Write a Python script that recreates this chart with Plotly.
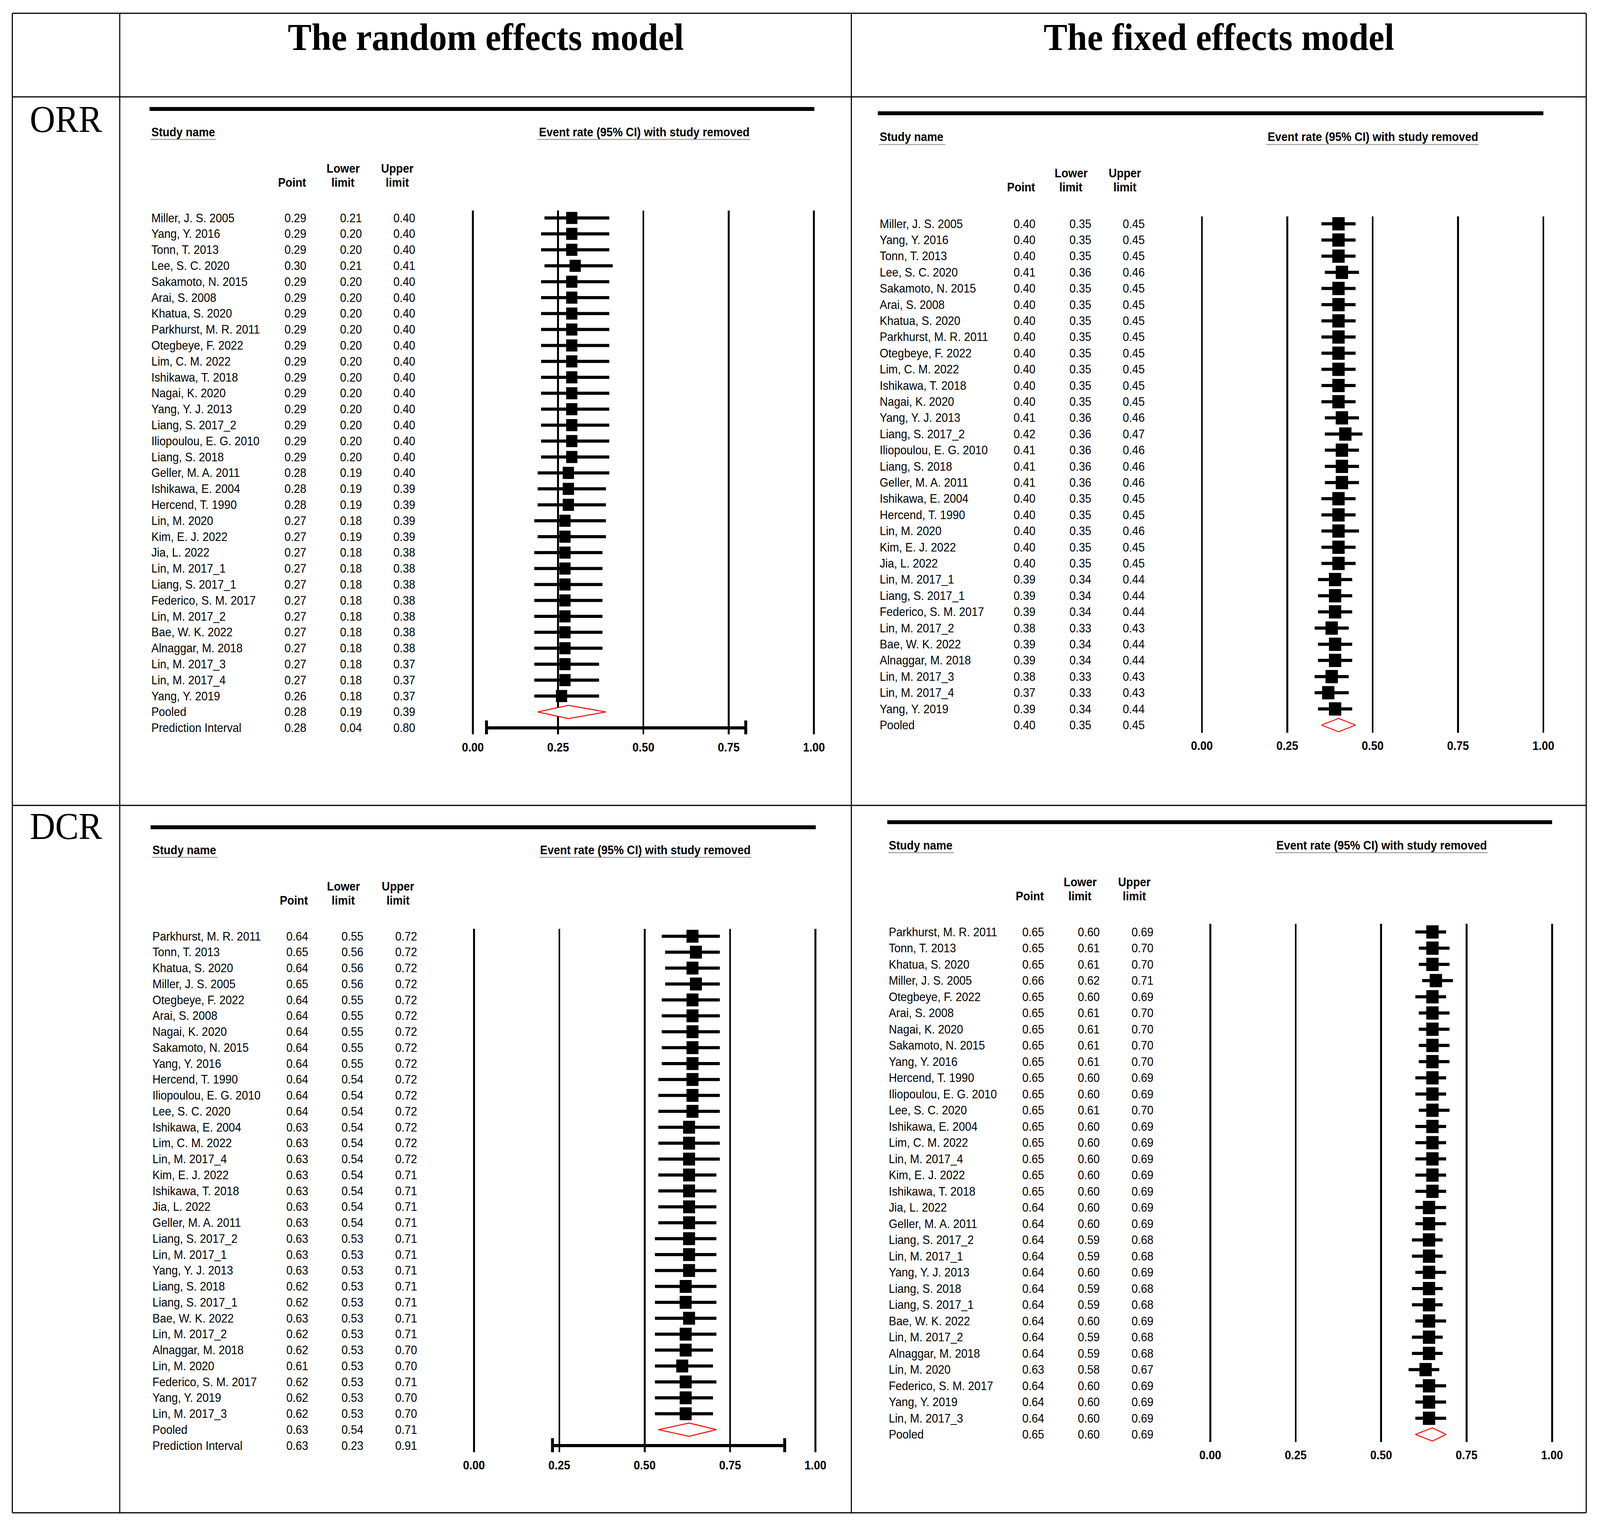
import plotly.graph_objects as go

W, H = 4409, 3912
SANS = "Liberation Sans, Arial, sans-serif"
SERIF = "Liberation Serif, Times New Roman, serif"

# ---------------- data ----------------
orr_studies = [
    "Miller, J. S. 2005", "Yang, Y. 2016", "Tonn, T. 2013", "Lee, S. C. 2020",
    "Sakamoto, N. 2015", "Arai, S. 2008", "Khatua, S. 2020", "Parkhurst, M. R. 2011",
    "Otegbeye, F. 2022", "Lim, C. M. 2022", "Ishikawa, T. 2018", "Nagai, K. 2020",
    "Yang, Y. J. 2013", "Liang, S. 2017_2", "Iliopoulou, E. G. 2010", "Liang, S. 2018",
    "Geller, M. A. 2011", "Ishikawa, E. 2004", "Hercend, T. 1990", "Lin, M. 2020",
    "Kim, E. J. 2022", "Jia, L. 2022", "Lin, M. 2017_1", "Liang, S. 2017_1",
    "Federico, S. M. 2017", "Lin, M. 2017_2", "Bae, W. K. 2022", "Alnaggar, M. 2018",
    "Lin, M. 2017_3", "Lin, M. 2017_4", "Yang, Y. 2019",
]

# ORR, random effects model
orr_re_point = [0.29, 0.29, 0.29, 0.30, 0.29, 0.29, 0.29, 0.29, 0.29, 0.29, 0.29, 0.29,
                0.29, 0.29, 0.29, 0.29, 0.28, 0.28, 0.28, 0.27, 0.27, 0.27, 0.27, 0.27,
                0.27, 0.27, 0.27, 0.27, 0.27, 0.27, 0.26]
orr_re_lower = [0.21, 0.20, 0.20, 0.21, 0.20, 0.20, 0.20, 0.20, 0.20, 0.20, 0.20, 0.20,
                0.20, 0.20, 0.20, 0.20, 0.19, 0.19, 0.19, 0.18, 0.19, 0.18, 0.18, 0.18,
                0.18, 0.18, 0.18, 0.18, 0.18, 0.18, 0.18]
orr_re_upper = [0.40, 0.40, 0.40, 0.41, 0.40, 0.40, 0.40, 0.40, 0.40, 0.40, 0.40, 0.40,
                0.40, 0.40, 0.40, 0.40, 0.40, 0.39, 0.39, 0.39, 0.39, 0.38, 0.38, 0.38,
                0.38, 0.38, 0.38, 0.38, 0.37, 0.37, 0.37]
orr_re_pooled = [0.28, 0.19, 0.39]
orr_re_pred = [0.28, 0.04, 0.80]

# ORR, fixed effects model
orr_fe_point = [0.40, 0.40, 0.40, 0.41, 0.40, 0.40, 0.40, 0.40, 0.40, 0.40, 0.40, 0.40,
                0.41, 0.42, 0.41, 0.41, 0.41, 0.40, 0.40, 0.40, 0.40, 0.40, 0.39, 0.39,
                0.39, 0.38, 0.39, 0.39, 0.38, 0.37, 0.39]
orr_fe_lower = [0.35, 0.35, 0.35, 0.36, 0.35, 0.35, 0.35, 0.35, 0.35, 0.35, 0.35, 0.35,
                0.36, 0.36, 0.36, 0.36, 0.36, 0.35, 0.35, 0.35, 0.35, 0.35, 0.34, 0.34,
                0.34, 0.33, 0.34, 0.34, 0.33, 0.33, 0.34]
orr_fe_upper = [0.45, 0.45, 0.45, 0.46, 0.45, 0.45, 0.45, 0.45, 0.45, 0.45, 0.45, 0.45,
                0.46, 0.47, 0.46, 0.46, 0.46, 0.45, 0.45, 0.46, 0.45, 0.45, 0.44, 0.44,
                0.44, 0.43, 0.44, 0.44, 0.43, 0.43, 0.44]
orr_fe_pooled = [0.40, 0.35, 0.45]

dcr_studies = [
    "Parkhurst, M. R. 2011", "Tonn, T. 2013", "Khatua, S. 2020", "Miller, J. S. 2005",
    "Otegbeye, F. 2022", "Arai, S. 2008", "Nagai, K. 2020", "Sakamoto, N. 2015",
    "Yang, Y. 2016", "Hercend, T. 1990", "Iliopoulou, E. G. 2010", "Lee, S. C. 2020",
    "Ishikawa, E. 2004", "Lim, C. M. 2022", "Lin, M. 2017_4", "Kim, E. J. 2022",
    "Ishikawa, T. 2018", "Jia, L. 2022", "Geller, M. A. 2011", "Liang, S. 2017_2",
    "Lin, M. 2017_1", "Yang, Y. J. 2013", "Liang, S. 2018", "Liang, S. 2017_1",
    "Bae, W. K. 2022", "Lin, M. 2017_2", "Alnaggar, M. 2018", "Lin, M. 2020",
    "Federico, S. M. 2017", "Yang, Y. 2019", "Lin, M. 2017_3",
]

# DCR, random effects model
dcr_re_point = [0.64, 0.65, 0.64, 0.65, 0.64, 0.64, 0.64, 0.64, 0.64, 0.64, 0.64, 0.64,
                0.63, 0.63, 0.63, 0.63, 0.63, 0.63, 0.63, 0.63, 0.63, 0.63, 0.62, 0.62,
                0.63, 0.62, 0.62, 0.61, 0.62, 0.62, 0.62]
dcr_re_lower = [0.55, 0.56, 0.56, 0.56, 0.55, 0.55, 0.55, 0.55, 0.55, 0.54, 0.54, 0.54,
                0.54, 0.54, 0.54, 0.54, 0.54, 0.54, 0.54, 0.53, 0.53, 0.53, 0.53, 0.53,
                0.53, 0.53, 0.53, 0.53, 0.53, 0.53, 0.53]
dcr_re_upper = [0.72, 0.72, 0.72, 0.72, 0.72, 0.72, 0.72, 0.72, 0.72, 0.72, 0.72, 0.72,
                0.72, 0.72, 0.72, 0.71, 0.71, 0.71, 0.71, 0.71, 0.71, 0.71, 0.71, 0.71,
                0.71, 0.71, 0.70, 0.70, 0.71, 0.70, 0.70]
dcr_re_pooled = [0.63, 0.54, 0.71]
dcr_re_pred = [0.63, 0.23, 0.91]

# DCR, fixed effects model
dcr_fe_point = [0.65, 0.65, 0.65, 0.66, 0.65, 0.65, 0.65, 0.65, 0.65, 0.65, 0.65, 0.65,
                0.65, 0.65, 0.65, 0.65, 0.65, 0.64, 0.64, 0.64, 0.64, 0.64, 0.64, 0.64,
                0.64, 0.64, 0.64, 0.63, 0.64, 0.64, 0.64]
dcr_fe_lower = [0.60, 0.61, 0.61, 0.62, 0.60, 0.61, 0.61, 0.61, 0.61, 0.60, 0.60, 0.61,
                0.60, 0.60, 0.60, 0.60, 0.60, 0.60, 0.60, 0.59, 0.59, 0.60, 0.59, 0.59,
                0.60, 0.59, 0.59, 0.58, 0.60, 0.60, 0.60]
dcr_fe_upper = [0.69, 0.70, 0.70, 0.71, 0.69, 0.70, 0.70, 0.70, 0.70, 0.69, 0.69, 0.70,
                0.69, 0.69, 0.69, 0.69, 0.69, 0.69, 0.69, 0.68, 0.68, 0.69, 0.68, 0.68,
                0.69, 0.68, 0.68, 0.67, 0.69, 0.69, 0.69]
dcr_fe_pooled = [0.65, 0.60, 0.69]

tick_vals = [0, 0.25, 0.5, 0.75, 1.0]
tick_text = ["0.00", "0.25", "0.50", "0.75", "1.00"]

col_titles = ["The random effects model", "The fixed effects model"]
row_titles = ["ORR", "DCR"]


def fx(x):
    return x / W


def fy(y):
    return 1 - y / H


panels = [
    dict(names=orr_studies, point=orr_re_point, lower=orr_re_lower, upper=orr_re_upper,
         pooled=orr_re_pooled, pred=orr_re_pred,
         name_x=415, point_r=846, lower_r=999, upper_r=1146, lower_c=945, upper_c=1095,
         hdr1=431, hdr2=468, y0=558, dy=40.8, ax0=1303, ax1=2243, vtop=539, vbot=1880,
         bar_y=279, bar_x=(412, 2244), head_y=338, ev_c=1775, ul_y=357,
         ul_name=(415, 596), ul_ev=(1481, 2067), msize=31),
    dict(names=orr_studies, point=orr_fe_point, lower=orr_fe_lower, upper=orr_fe_upper,
         pooled=orr_fe_pooled, pred=None,
         name_x=2422, point_r=2855, lower_r=3009, upper_r=3156, lower_c=2951, upper_c=3100,
         hdr1=443, hdr2=480, y0=573, dy=41.4, ax0=3312, ax1=4253, vtop=554, vbot=1876,
         bar_y=290, bar_x=(2419, 4253), head_y=351, ev_c=3783, ul_y=370,
         ul_name=(2422, 2605), ul_ev=(3489, 4075), msize=34),
    dict(names=dcr_studies, point=dcr_re_point, lower=dcr_re_lower, upper=dcr_re_upper,
         pooled=dcr_re_pooled, pred=dcr_re_pred,
         name_x=418, point_r=851, lower_r=1003, upper_r=1151, lower_c=946, upper_c=1097,
         hdr1=2269, hdr2=2305, y0=2397, dy=40.75, ax0=1306, ax1=2247, vtop=2378, vbot=3718,
         bar_y=2118, bar_x=(415, 2248), head_y=2176, ev_c=1778, ul_y=2195,
         ul_name=(418, 600), ul_ev=(1486, 2070), msize=33),
    dict(names=dcr_studies, point=dcr_fe_point, lower=dcr_fe_lower, upper=dcr_fe_upper,
         pooled=dcr_fe_pooled, pred=None,
         name_x=2447, point_r=2879, lower_r=3032, upper_r=3180, lower_c=2976, upper_c=3126,
         hdr1=2258, hdr2=2294, y0=2386, dy=41.5, ax0=3335, ax1=4277, vtop=2365, vbot=3692,
         bar_y=2105, bar_x=(2445, 4277), head_y=2164, ev_c=3807, ul_y=2183,
         ul_name=(2447, 2628), ul_ev=(3514, 4100), msize=34),
]

fig = go.Figure()
shapes = []
annotations = []
layout_axes = {}
pad = 0.01
body_font = dict(family=SANS, size=31, color="black")
bold_font = dict(family=SANS, size=31, color="black", weight="bold")

for k, p in enumerate(panels, start=1):
    sfx = "" if k == 1 else str(k)
    xa, ya = "x" + sfx, "y" + sfx
    n = len(p["names"])
    rows = list(range(n))

    # studies: square + CI line
    fig.add_trace(go.Scatter(
        x=p["point"], y=rows, mode="markers", xaxis=xa, yaxis=ya,
        marker=dict(symbol="square", size=p["msize"], color="black"),
        error_x=dict(type="data", symmetric=False,
                     array=[u - v for u, v in zip(p["upper"], p["point"])],
                     arrayminus=[v - lo for v, lo in zip(p["point"], p["lower"])],
                     thickness=8, width=0, color="black"),
        hoverinfo="skip", showlegend=False))

    # pooled diamond
    pp, pl, pu = p["pooled"]
    hh = 17 / p["dy"]
    fig.add_trace(go.Scatter(
        x=[pl, pp, pu, pp, pl], y=[n, n - hh, n, n + hh, n], mode="lines",
        fill="toself", fillcolor="white", line=dict(color="red", width=2.5),
        xaxis=xa, yaxis=ya, hoverinfo="skip", showlegend=False))

    # prediction interval
    if p["pred"]:
        qp, ql, qu = p["pred"]
        fig.add_trace(go.Scatter(
            x=[qp], y=[n + 1], mode="markers", xaxis=xa, yaxis=ya,
            marker=dict(size=1, color="rgba(0,0,0,0)"),
            error_x=dict(type="data", symmetric=False, array=[qu - qp], arrayminus=[qp - ql],
                         thickness=8, width=19, color="black"),
            hoverinfo="skip", showlegend=False))

    wpx = p["ax1"] - p["ax0"]
    layout_axes["xaxis" + sfx] = dict(
        domain=[fx(p["ax0"] - pad * wpx), fx(p["ax1"] + pad * wpx)], range=[-pad, 1 + pad],
        anchor=ya, tickvals=tick_vals, ticktext=tick_text, showgrid=True, gridcolor="black",
        gridwidth=5, zeroline=False, showline=False, ticks="", tickfont=bold_font,
        ticklabelstandoff=12, fixedrange=True, automargin=False)
    layout_axes["yaxis" + sfx] = dict(
        domain=[fy(p["vbot"]), fy(p["vtop"])],
        range=[(p["vbot"] - p["y0"]) / p["dy"], (p["vtop"] - p["y0"]) / p["dy"]],
        visible=False, anchor=xa, fixedrange=True, automargin=False)

    # table text
    labels = p["names"] + ["Pooled"]
    pts = p["point"] + [pp]
    los = p["lower"] + [pl]
    ups = p["upper"] + [pu]
    if p["pred"]:
        labels = labels + ["Prediction Interval"]
        pts, los, ups = pts + [qp], los + [ql], ups + [qu]
    for i, lab in enumerate(labels):
        annotations.append(dict(text=lab, x=fx(p["name_x"]), y=i, xref="paper", yref=ya,
                                xanchor="left", yanchor="middle", showarrow=False, font=body_font))
        for val, xr in ((pts[i], p["point_r"]), (los[i], p["lower_r"]), (ups[i], p["upper_r"])):
            annotations.append(dict(text=f"{val:.2f}", x=fx(xr), y=i, xref="paper", yref=ya,
                                    xanchor="right", yanchor="middle", showarrow=False,
                                    font=body_font))

    # headers
    for txt, x, y, xan in (("Study name", p["name_x"], p["head_y"], "left"),
                           ("Event rate (95% CI) with study removed", p["ev_c"], p["head_y"], "center"),
                           ("Point", p["point_r"], p["hdr2"], "right"),
                           ("Lower", p["lower_c"], p["hdr1"], "center"),
                           ("limit", p["lower_c"], p["hdr2"], "center"),
                           ("Upper", p["upper_c"], p["hdr1"], "center"),
                           ("limit", p["upper_c"], p["hdr2"], "center")):
        annotations.append(dict(text=txt, x=fx(x), y=fy(y), xref="paper", yref="paper",
                                xanchor=xan, yanchor="middle", showarrow=False, font=bold_font))

    # thick rule and grey underlines
    shapes.append(dict(type="rect", xref="paper", yref="paper",
                       x0=fx(p["bar_x"][0]), x1=fx(p["bar_x"][1]),
                       y0=fy(p["bar_y"] - 5), y1=fy(p["bar_y"] + 5),
                       fillcolor="black", line=dict(width=0)))
    for a, b in (p["ul_name"], p["ul_ev"]):
        shapes.append(dict(type="line", xref="paper", yref="paper", x0=fx(a), x1=fx(b),
                           y0=fy(p["ul_y"]), y1=fy(p["ul_y"]),
                           line=dict(color="#9a9a9a", width=2.5)))

# table grid
grid_x = [34, 330, 2346, 4371]
grid_y = [34, 248, 2062, 3873]
for gx in grid_x:
    shapes.append(dict(type="line", xref="paper", yref="paper", x0=fx(gx), x1=fx(gx),
                       y0=fy(grid_y[0]), y1=fy(grid_y[-1]), line=dict(color="black", width=3)))
for gy in grid_y:
    shapes.append(dict(type="line", xref="paper", yref="paper", x0=fx(grid_x[0]), x1=fx(grid_x[-1]),
                       y0=fy(gy), y1=fy(gy), line=dict(color="black", width=3)))

# column and row titles
for txt, cx in zip(col_titles, (1338, 3359)):
    annotations.append(dict(text=txt, x=fx(cx), y=fy(95), xref="paper", yref="paper",
                            xanchor="center", yanchor="middle", showarrow=False,
                            font=dict(family=SERIF, size=98, color="black", weight="bold")))
for txt, cy in zip(row_titles, (306, 2115)):
    annotations.append(dict(text=txt, x=fx(182), y=fy(cy), xref="paper", yref="paper",
                            xanchor="center", yanchor="middle", showarrow=False,
                            font=dict(family=SERIF, size=97, color="black")))

fig.update_layout(
    width=W, height=H, margin=dict(l=0, r=0, t=0, b=0, pad=0, autoexpand=False),
    paper_bgcolor="white", plot_bgcolor="rgba(0,0,0,0)", showlegend=False,
    shapes=shapes, annotations=annotations, **layout_axes)

# the browser viewport can be narrower than the figure (it is capped), so fit the
# fixed-size figure into the viewport
fit_js = """
var gd = document.getElementById('{plot_id}');
document.documentElement.style.margin = '0';
document.body.style.margin = '0';
document.documentElement.style.overflow = 'hidden';
document.body.style.overflow = 'hidden';
var sx = Math.min(1, window.innerWidth / %d);
var sy = Math.min(1, window.innerHeight / %d);
gd.style.transformOrigin = '0 0';
gd.style.transform = 'scale(' + sx + ',' + sy + ')';
var wrap = gd.parentElement;
wrap.style.width = (%d * sx) + 'px';
wrap.style.height = (%d * sy) + 'px';
wrap.style.overflow = 'hidden';
""" % (W, H, W, H)

fig.write_html("out.html", post_script=fit_js, config={"displayModeBar": False})
